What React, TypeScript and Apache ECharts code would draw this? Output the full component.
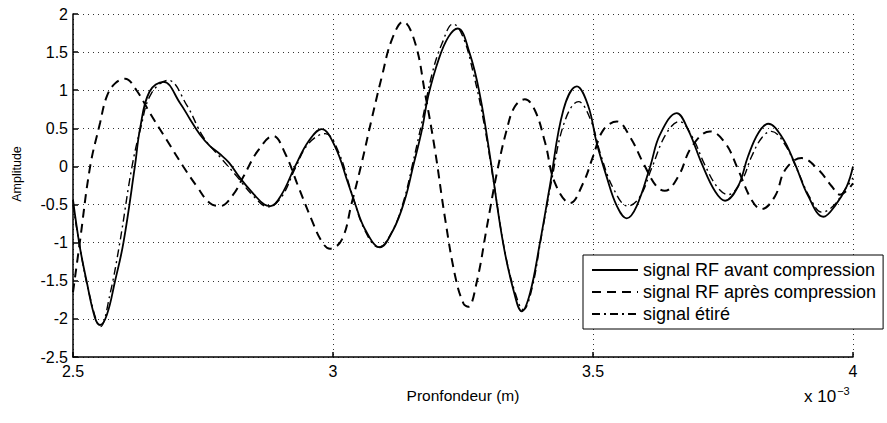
import React, { useEffect, useRef } from "react";
import * as echarts from "echarts";

const seriesNames = [
  "signal RF avant compression",
  "signal RF après compression",
  "signal étiré",
];

const avant: [number, number][] = [
  [2.5, -0.44], [2.513, -1.05], [2.526, -1.5], [2.542, -1.98], [2.552, -2.08], [2.565, -1.95],
  [2.581, -1.5], [2.597, -1.0], [2.619, 0.0], [2.629, 0.5], [2.647, 0.98], [2.674, 1.11],
  [2.706, 0.83], [2.725, 0.62], [2.744, 0.42], [2.763, 0.27], [2.783, 0.16], [2.8, 0.05],
  [2.821, -0.15], [2.847, -0.36], [2.868, -0.5], [2.88, -0.52], [2.901, -0.37], [2.927, 0.0],
  [2.953, 0.33], [2.978, 0.49], [3.004, 0.26], [3.029, -0.22], [3.042, -0.48], [3.062, -0.83],
  [3.09, -1.06], [3.116, -0.83], [3.138, -0.44], [3.154, 0.0], [3.171, 0.48], [3.183, 0.92],
  [3.203, 1.4], [3.222, 1.7], [3.24, 1.81], [3.263, 1.48], [3.283, 0.92], [3.302, 0.13],
  [3.327, -1.0], [3.347, -1.62], [3.363, -1.9], [3.379, -1.66], [3.398, -1.0], [3.417, -0.26],
  [3.443, 0.74], [3.469, 1.05], [3.491, 0.79], [3.507, 0.31], [3.526, -0.13], [3.546, -0.52],
  [3.565, -0.68], [3.584, -0.52], [3.61, 0.0], [3.629, 0.42], [3.661, 0.7], [3.683, 0.48],
  [3.709, 0.04], [3.735, -0.33], [3.754, -0.45], [3.779, -0.26], [3.798, 0.13], [3.818, 0.44],
  [3.837, 0.56], [3.863, 0.39], [3.888, 0.04], [3.914, -0.39], [3.943, -0.66], [3.965, -0.52],
  [3.988, -0.26], [4.0, 0.0],
];

const apres: [number, number][] = [
  [2.5, -1.65], [2.513, -1.0], [2.533, 0.0], [2.552, 0.57], [2.565, 0.92], [2.581, 1.09],
  [2.6, 1.15], [2.622, 1.0], [2.648, 0.7], [2.68, 0.35], [2.712, 0.0], [2.738, -0.26],
  [2.763, -0.48], [2.783, -0.52], [2.808, -0.37], [2.828, -0.13], [2.855, 0.2], [2.885, 0.4],
  [2.908, 0.17], [2.933, -0.26], [2.959, -0.7], [2.978, -0.98], [2.994, -1.08], [3.017, -0.96],
  [3.036, -0.48], [3.055, 0.04], [3.074, 0.61], [3.094, 1.18], [3.113, 1.66], [3.135, 1.9],
  [3.158, 1.62], [3.177, 0.96], [3.196, 0.22], [3.215, -0.66], [3.235, -1.44], [3.251, -1.8],
  [3.26, -1.84], [3.276, -1.53], [3.296, -0.79], [3.315, -0.09], [3.334, 0.48], [3.35, 0.79],
  [3.369, 0.88], [3.388, 0.74], [3.408, 0.31], [3.427, -0.22], [3.456, -0.48], [3.481, -0.22],
  [3.5, 0.13], [3.52, 0.48], [3.546, 0.59], [3.571, 0.39], [3.597, 0.04], [3.622, -0.26],
  [3.638, -0.32], [3.664, -0.13], [3.69, 0.26], [3.725, 0.46], [3.754, 0.31], [3.779, -0.04],
  [3.805, -0.44], [3.824, -0.56], [3.85, -0.39], [3.87, -0.04], [3.901, 0.11], [3.933, -0.04],
  [3.959, -0.26], [3.975, -0.37], [4.0, -0.22],
];

const etire: [number, number][] = [
  [2.5, -0.5], [2.513, -1.05], [2.533, -1.72], [2.553, -2.1], [2.571, -1.68], [2.59, -1.0],
  [2.613, -0.02], [2.63, 0.5], [2.65, 0.95], [2.683, 1.13], [2.719, 0.8], [2.751, 0.38],
  [2.782, 0.13], [2.815, -0.13], [2.847, -0.39], [2.875, -0.53], [2.901, -0.4], [2.927, -0.03],
  [2.953, 0.3], [2.985, 0.43], [3.01, 0.2], [3.036, -0.35], [3.062, -0.85], [3.088, -1.06],
  [3.114, -0.85], [3.136, -0.45], [3.152, 0.0], [3.17, 0.55], [3.19, 1.2], [3.21, 1.62],
  [3.231, 1.87], [3.25, 1.7], [3.27, 1.22], [3.29, 0.58], [3.31, -0.25], [3.33, -1.1],
  [3.35, -1.65], [3.366, -1.88], [3.382, -1.62], [3.4, -0.95], [3.42, -0.2], [3.445, 0.58],
  [3.472, 0.85], [3.495, 0.62], [3.515, 0.15], [3.54, -0.3], [3.567, -0.52], [3.59, -0.4],
  [3.613, -0.02], [3.64, 0.42], [3.666, 0.59], [3.69, 0.4], [3.715, 0.02], [3.74, -0.28],
  [3.76, -0.37], [3.785, -0.2], [3.805, 0.13], [3.825, 0.38], [3.843, 0.46], [3.868, 0.3],
  [3.893, -0.05], [3.918, -0.42], [3.94, -0.6], [3.962, -0.52], [3.985, -0.3], [4.0, -0.15],
];

const FONT = "'Liberation Sans', Arial, Helvetica, sans-serif";

export default function App() {
  const ref = useRef<HTMLDivElement>(null);
  useEffect(() => {
    document.body.style.margin = "0";
    if (!ref.current) return;
    const chart = echarts.init(ref.current, undefined, { renderer: "svg" });
    const split = { show: true, lineStyle: { color: "#333", width: 1, type: [1, 4] as any } };
    chart.setOption({
      animation: false,
      backgroundColor: "#fff",
      grid: { left: 73, right: 34, top: 14, bottom: 66, containLabel: false },
      xAxis: {
        type: "value",
        min: 2.5,
        max: 4,
        interval: 0.5,
        name: "Pronfondeur (m)",
        nameLocation: "middle",
        nameGap: 30,
        nameTextStyle: { fontFamily: FONT, fontSize: 15.5, color: "#000" },
        axisLine: { show: true, onZero: false, lineStyle: { color: "#000", width: 1.5 } },
        axisTick: { show: true, inside: true, length: 5, lineStyle: { color: "#000", width: 1.5 } },
        axisLabel: { fontFamily: FONT, fontSize: 16, color: "#000", margin: 6, formatter: (v: number) => String(v) },
        splitLine: split,
      },
      yAxis: {
        type: "value",
        min: -2.5,
        max: 2,
        interval: 0.5,
        axisLine: { show: true, onZero: false, lineStyle: { color: "#000", width: 1.5 } },
        axisTick: { show: true, inside: true, length: 5, lineStyle: { color: "#000", width: 1.5 } },
        axisLabel: { fontFamily: FONT, fontSize: 16, color: "#000", margin: 5 },
        splitLine: split,
      },
      legend: {
        orient: "vertical",
        left: 583,
        top: 255,
        backgroundColor: "#fff",
        borderColor: "#000",
        borderWidth: 1,
        padding: [6, 7, 6, 8],
        itemGap: 4,
        itemWidth: 46,
        itemHeight: 14,
        itemStyle: { opacity: 0 },
        textStyle: { fontFamily: FONT, fontSize: 18, color: "#000" },
        data: seriesNames,
      },
      graphic: [
        {
          type: "text",
          x: 17,
          y: 174,
          rotation: Math.PI / 2,
          style: {
            text: "Amplitude",
            fontFamily: FONT,
            fontSize: 12.5,
            fill: "#000",
            align: "center",
            verticalAlign: "middle",
          },
        },
        {
          type: "text",
          left: 804,
          top: 385,
          style: {
            text: "x 10{sup|−3}",
            fontFamily: FONT,
            fontSize: 17,
            fill: "#000",
            rich: { sup: { fontFamily: FONT, fontSize: 11, fill: "#000", verticalAlign: "top", padding: [0, 0, 12, 1] } },
          },
        },
      ],
      series: [
        {
          name: seriesNames[0],
          type: "line",
          data: avant,
          smooth: 0.4,
          symbol: "none",
          lineStyle: { color: "#000", width: 1.8, type: "solid" },
          itemStyle: { color: "#000" },
          z: 3,
        },
        {
          name: seriesNames[1],
          type: "line",
          data: apres,
          smooth: 0.4,
          symbol: "none",
          lineStyle: { color: "#000", width: 2, type: [9, 6] },
          itemStyle: { color: "#000" },
          z: 2,
        },
        {
          name: seriesNames[2],
          type: "line",
          data: etire,
          smooth: 0.4,
          symbol: "none",
          lineStyle: { color: "#000", width: 1.4, type: [8, 4, 2, 4] },
          itemStyle: { color: "#000" },
          z: 2,
        },
      ],
    });
    return () => chart.dispose();
  }, []);
  return <div ref={ref} style={{ width: 887, height: 423 }} />;
}
